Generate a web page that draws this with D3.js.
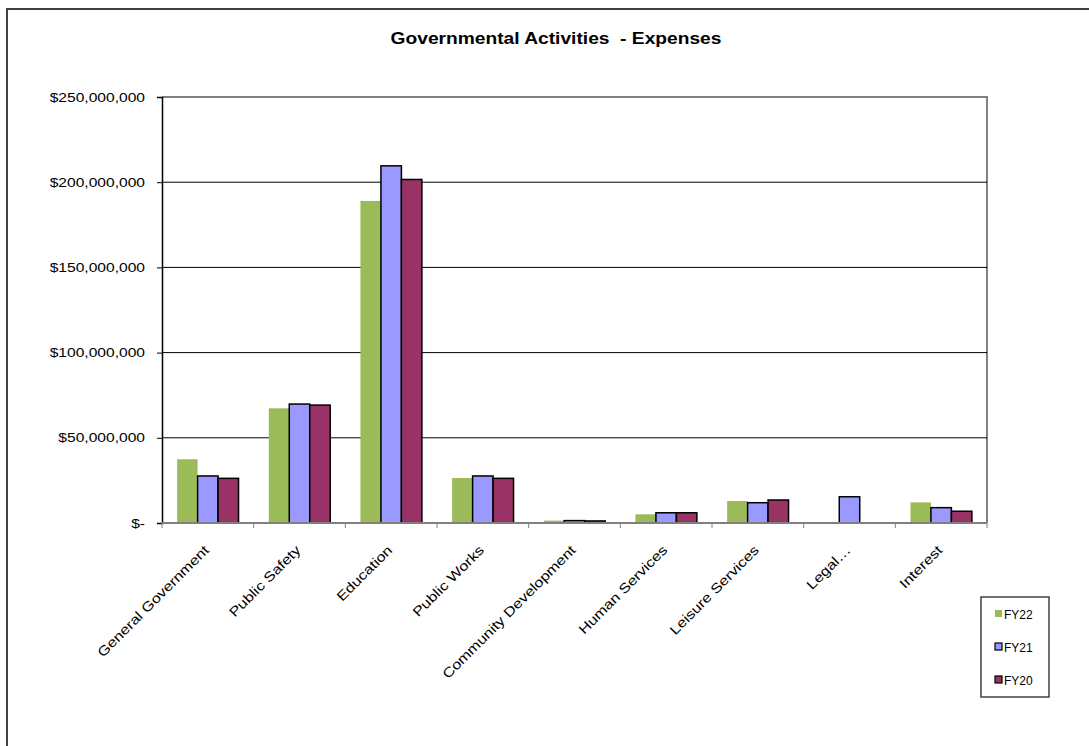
<!DOCTYPE html>
<html>
<head>
<meta charset="utf-8">
<script src="https://cdn.jsdelivr.net/npm/d3@7"></script>
<style>
  html, body { margin: 0; padding: 0; background: #fff; }
  svg { display: block; font-family: "Liberation Sans", Arial, sans-serif; }
</style>
</head>
<body>
<svg id="chart" width="1089" height="746"></svg>
<script>
const categories = ["General Government", "Public Safety", "Education", "Public Works",
  "Community Development", "Human Services", "Leisure Services", "Legal…", "Interest"];
const seriesNames = ["FY22", "FY21", "FY20"];
const fy22 = [37.4, 67.3, 189.0, 26.4, 1.4, 5.1, 12.9, 0, 12.1];
const fy21 = [27.6, 69.8, 209.6, 27.6, 1.4, 6.0, 11.9, 15.4, 9.0];
const fy20 = [26.2, 69.2, 201.6, 26.2, 1.2, 6.0, 13.5, 0, 6.9];
const yTicks = [0, 50, 100, 150, 200, 250];
const yTickLabels = ["$-", "$50,000,000", "$100,000,000", "$150,000,000", "$200,000,000", "$250,000,000"];
const colors = ["#9BBB59", "#9999FF", "#993366"];
const strokes = ["none", "#000", "#000"];
const title = "Governmental Activities  - Expenses";

const values = [fy22, fy21, fy20];
const SX = 1.2; // horizontal stretch of text seen in the reference
const svg = d3.select("#chart");

// outer chart border
svg.append("rect").attr("x", 7).attr("y", 9).attr("width", 1100).attr("height", 760)
  .attr("fill", "#fff").attr("stroke", "#404040").attr("stroke-width", 2);

const L = 162, R = 987, T = 97, B = 523;
const x = d3.scaleBand().domain(categories).range([L, R]).paddingInner(0.33).paddingOuter(0.165);
const xs = d3.scaleBand().domain(seriesNames).range([0, x.bandwidth()]).padding(0);
const y = d3.scaleLinear().domain([0, 250]).range([B, T]);

// title
svg.append("text").attr("transform", `translate(556,44) scale(${SX},1)`).attr("text-anchor", "middle")
  .attr("font-weight", "bold").attr("font-size", 16).style("white-space", "pre").text(title);

// plot area frame (top and right gray)
svg.append("path").attr("d", `M${L},${T}H${R}V${B}`).attr("fill", "none")
  .attr("stroke", "#808080").attr("stroke-width", 2);

// gridlines
svg.append("g").selectAll("line").data(yTicks.filter(t => t > 0 && t < 250)).join("line")
  .attr("x1", L).attr("x2", R).attr("y1", d => y(d)).attr("y2", d => y(d))
  .attr("stroke", "#000").attr("stroke-width", 1);

// bars
const groups = svg.append("g").selectAll("g").data(categories).join("g")
  .attr("transform", d => `translate(${x(d)},0)`);
groups.selectAll("rect").data((c, i) => seriesNames.map((s, j) => ({ s, j, v: values[j][i] })))
  .join("rect")
  .filter(d => d.v > 0)
  .attr("x", d => xs(d.s)).attr("width", xs.bandwidth())
  .attr("y", d => y(d.v)).attr("height", d => B - y(d.v))
  .attr("fill", d => colors[d.j])
  .attr("stroke", d => strokes[d.j]).attr("stroke-width", 1.5);

// y axis
const yAxis = d3.axisLeft(y).tickValues(yTicks).tickSize(5).tickFormat((d, i) => yTickLabels[i]);
const gy = svg.append("g").attr("transform", `translate(${L},0)`).call(yAxis);
gy.select(".domain").attr("stroke", "#000").attr("stroke-width", 1.5);
gy.selectAll(".tick line").attr("stroke", "#000");
gy.selectAll(".tick text").attr("font-size", 13).attr("font-family", "Liberation Sans, Arial, sans-serif")
  .attr("fill", "#000").attr("x", -17 / SX).attr("transform", `scale(${SX},1)`);

// x axis
const step = x.step();
const boundaries = categories.map(c => x(c) - step * x.paddingInner() / 2).concat([R]);
svg.append("line").attr("x1", L).attr("x2", R).attr("y1", B).attr("y2", B)
  .attr("stroke", "#808080").attr("stroke-width", 2);
svg.append("g").selectAll("line").data(boundaries).join("line")
  .attr("x1", d => d).attr("x2", d => d).attr("y1", B).attr("y2", B + 5)
  .attr("stroke", "#808080").attr("stroke-width", 1);

svg.append("g").selectAll("text").data(categories).join("text")
  .attr("transform", d => `translate(${x(d) + x.bandwidth() / 2 + 2},${B + 28}) rotate(-45) scale(${SX},1)`)
  .attr("text-anchor", "end").attr("font-size", 13.5).attr("fill", "#000")
  .text(d => d);

// legend
const lg = svg.append("g");
lg.append("rect").attr("x", 981).attr("y", 597).attr("width", 68).attr("height", 100)
  .attr("fill", "#fff").attr("stroke", "#404040").attr("stroke-width", 1.5);
const items = lg.selectAll("g").data(seriesNames).join("g")
  .attr("transform", (d, i) => `translate(995,${614 + i * 33})`);
items.append("rect").attr("x", 0).attr("y", -4).attr("width", 7).attr("height", 7)
  .attr("fill", (d, i) => colors[i]).attr("stroke", (d, i) => strokes[i]).attr("stroke-width", 1.2);
items.append("text").attr("x", 9).attr("y", 4.5).attr("font-size", 12).text(d => d);
</script>
</body>
</html>
